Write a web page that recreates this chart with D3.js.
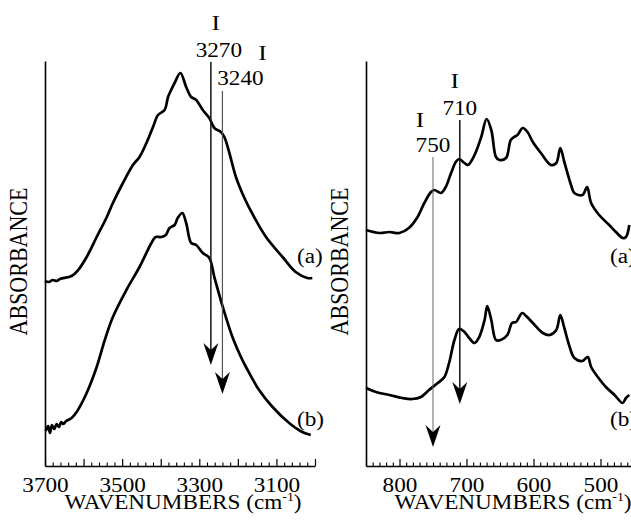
<!DOCTYPE html>
<html>
<head>
<meta charset="utf-8">
<script src="https://cdn.jsdelivr.net/npm/d3@7"></script>
<style>
  body { margin: 0; background: #fff; }
  text { font-family: "Liberation Serif", "Times New Roman", serif; fill: #000; }
</style>
</head>
<body>
<div id="chart"></div>
<script>
// ---- data (absorbance in arbitrary units)
// O-H stretch region, left panel
var ohWnA  = [3700,3690,3680,3670,3661,3631,3614,3592,3566,3541,3524,3498,3472,3455,3437,3420,3407,3390,3381,3373,3364,3349,3334,3321,3308,3291,3274,3261,3244,3235,3222,3205,3183,3162,3127,3084,3050,3020,3007];
var ohAbsA = [185,184,186,185,187,190,196,209,229,248,263,283,301,309,323,339,351,356,369,376,383,393,379,369,366,356,348,338,334,329,313,289,268,252,229,209,194,188,188];
var ohWnB  = [3698,3692,3687,3682,3676,3670,3664,3658,3653,3645,3631,3618,3592,3566,3545,3524,3489,3455,3424,3413,3399,3387,3377,3364,3356,3344,3334,3321,3308,3291,3274,3261,3239,3214,3192,3179,3145,3110,3067,3033,3011];
var ohAbsB = [35,40,33,41,37,42,39,44,42,45,48,54,73,99,126,149,176,199,223,229,229,231,238,241,248,253,243,223,221,213,208,189,159,129,109,99,76,59,43,34,31];

// low wavenumber region, right panel
var lowWnA  = [850,830,815,800,786,773,763,753,748,738,731,723,716,711,703,698,688,678,670,663,656,651,641,634,629,624,616,609,601,589,574,566,560,554,544,539,527,520,514,502,487,477,467,462,457];
var lowAbsA = [236,233,234,233,238,249,263,274,276,273,279,293,304,307,303,301,311,329,347,336,309,306,308,326,329,331,338,334,324,313,301,303,318,304,281,273,271,279,263,251,241,234,228,229,241];
var lowWnB  = [850,835,815,796,781,768,756,743,733,726,718,711,703,696,688,681,673,669,663,656,649,639,632,626,617,611,601,586,576,566,560,554,546,539,527,519,514,504,492,479,467,462,457];
var lowAbsB = [78,74,71,68,67,69,76,83,89,103,126,137,134,128,123,129,146,160,146,126,126,131,143,144,153,150,143,133,131,136,151,138,119,108,105,109,99,89,79,71,63,68,71];

// tick labels
var ohTickLabels = [3700, 3500, 3300, 3100];
var lowTickLabels = [800, 700, 600, 500];

// marked bands: wavenumber, top of line and arrow tip (same absorbance units)
var ohMarkers = [3270, 3240];
var ohMarkerTop = [404, 375];
var ohMarkerTip = [101, 72];
var lowMarkers = [750, 710];
var lowMarkerTop = [309, 346];
var lowMarkerTip = [19, 62];

var W = 631, H = 522;
var stretch = "scale(1.16,1)";   // the scanned lettering is wider than the font

var svg = d3.select("#chart")
    .append("svg")
    .attr("width", W)
    .attr("height", H);

svg.append("rect").attr("width", W).attr("height", H).attr("fill", "#fff");

// shared vertical scale (no ticks on it)
var y = d3.scaleLinear().domain([0, 405]).range([466, 61]);

var line = d3.line()
    .x(function (d) { return d.x; })
    .y(function (d) { return d.y; })
    .curve(d3.curveCatmullRom.alpha(0.5));

var arrowHead = "M0,0L-7.5,-22L0,-15L7.5,-22Z";

function wideText(g, x, yy, size, str, anchor) {
    return g.append("text")
        .attr("transform", "translate(" + x + "," + yy + ") " + stretch)
        .attr("text-anchor", anchor || "middle")
        .style("font-size", size + "px")
        .text(str);
}

function drawPanel(p) {
    var g = svg.append("g");
    var x = p.x;

    // vertical axis line
    g.append("g")
        .attr("transform", "translate(" + x.range()[0] + ",0)")
        .call(d3.axisLeft(y).tickValues([]).tickSizeOuter(0))
        .select(".domain").attr("stroke-width", 1.6);

    // minor ticks
    var minorAx = g.append("g")
        .attr("transform", "translate(0,466)")
        .call(d3.axisBottom(x).tickValues(p.minor).tickSize(-3.5).tickSizeOuter(0).tickFormat(""));
    minorAx.select(".domain").remove();
    minorAx.selectAll("line").attr("stroke-width", 1.1);

    // major ticks + labels
    var majorAx = g.append("g")
        .attr("transform", "translate(0,466)")
        .call(d3.axisBottom(x).tickValues(p.major).tickSize(-7).tickSizeOuter(0).tickPadding(12)
            .tickFormat(function (d) { return p.labels.indexOf(d) >= 0 ? d : ""; }));
    majorAx.attr("font-family", null).attr("font-size", null);
    majorAx.select(".domain").attr("stroke-width", 1.6);
    majorAx.selectAll("line").attr("stroke-width", 1.2);
    majorAx.selectAll("text").style("font-size", "20px").attr("transform", stretch);

    // spectra
    p.curves.forEach(function (c) {
        var pts = d3.zip(c.wn, c.abs).map(function (d) { return { x: x(d[0]), y: y(d[1]) }; });
        g.append("path")
            .datum(pts)
            .attr("fill", "none")
            .attr("stroke", "#000")
            .attr("stroke-width", 2.7)
            .attr("stroke-linejoin", "round")
            .attr("d", line);
        wideText(g, c.labelX, c.labelY, 20, c.label, "start");
    });

    // marker lines with arrows
    p.markers.forEach(function (wn, i) {
        var mx = x(wn);
        var st = p.markerStyle[i];
        g.append("line")
            .attr("x1", mx).attr("x2", mx)
            .attr("y1", y(p.top[i])).attr("y2", y(p.tip[i]) - 12)
            .attr("stroke", st.color)
            .attr("stroke-width", st.width);
        g.append("path")
            .attr("d", arrowHead)
            .attr("transform", "translate(" + mx + "," + y(p.tip[i]) + ")")
            .attr("fill", "#000");
        wideText(g, mx + st.numDx, st.numY, 20, wn);
        wideText(g, mx + st.iDx, st.iY, 22, "I");
    });

    // axis titles
    var t = g.append("text")
        .attr("transform", "translate(" + p.titleX + ",509) " + stretch)
        .attr("text-anchor", "middle")
        .style("font-size", "20px");
    t.append("tspan").text("WAVENUMBERS (cm");
    t.append("tspan").attr("dy", -8).style("font-size", "12px").text("-1");
    t.append("tspan").attr("dy", 8).text(")");

    g.append("text")
        .attr("transform", "translate(" + p.yTitleX + ",261.5) rotate(-90) scale(1,1.1)")
        .attr("text-anchor", "middle")
        .style("font-size", "22px")
        .text("ABSORBANCE");
}

function notIn(list) {
    return function (v) { return list.indexOf(v) < 0; };
}

var xOH = d3.scaleLinear().domain([3700, 3000]).range([45, 315]);
var ohMajor = d3.range(3700, 2999, -100);
drawPanel({
    x: xOH,
    major: ohMajor,
    minor: d3.range(3700, 2999, -20).filter(notIn(ohMajor)),
    labels: ohTickLabels,
    curves: [
        { wn: ohWnA, abs: ohAbsA, label: "(a)", labelX: 297, labelY: 263 },
        { wn: ohWnB, abs: ohAbsB, label: "(b)", labelX: 297, labelY: 426 }
    ],
    markers: ohMarkers, top: ohMarkerTop, tip: ohMarkerTip,
    markerStyle: [
        { color: "#222", width: 1.6, numDx: 8, numY: 57, iDx: 5, iY: 30 },
        { color: "#555", width: 1.2, numDx: 18, numY: 85, iDx: 40, iY: 60 }
    ],
    titleX: 183,
    yTitleX: 27
});

var xLow = d3.scaleLinear().domain([850, 450]).range([366, 634]);
var lowMajor = d3.range(800, 449, -100);
drawPanel({
    x: xLow,
    major: lowMajor,
    minor: d3.range(850, 449, -10).filter(notIn(lowMajor)),
    labels: lowTickLabels,
    curves: [
        { wn: lowWnA, abs: lowAbsA, label: "(a)", labelX: 610, labelY: 263 },
        { wn: lowWnB, abs: lowAbsB, label: "(b)", labelX: 610, labelY: 426 }
    ],
    markers: lowMarkers, top: lowMarkerTop, tip: lowMarkerTip,
    markerStyle: [
        { color: "#666", width: 1, numDx: 0, numY: 152, iDx: -13, iY: 127 },
        { color: "#111", width: 1.5, numDx: 0, numY: 115, iDx: -5, iY: 88 }
    ],
    titleX: 513,
    yTitleX: 348
});
</script>
</body>
</html>
